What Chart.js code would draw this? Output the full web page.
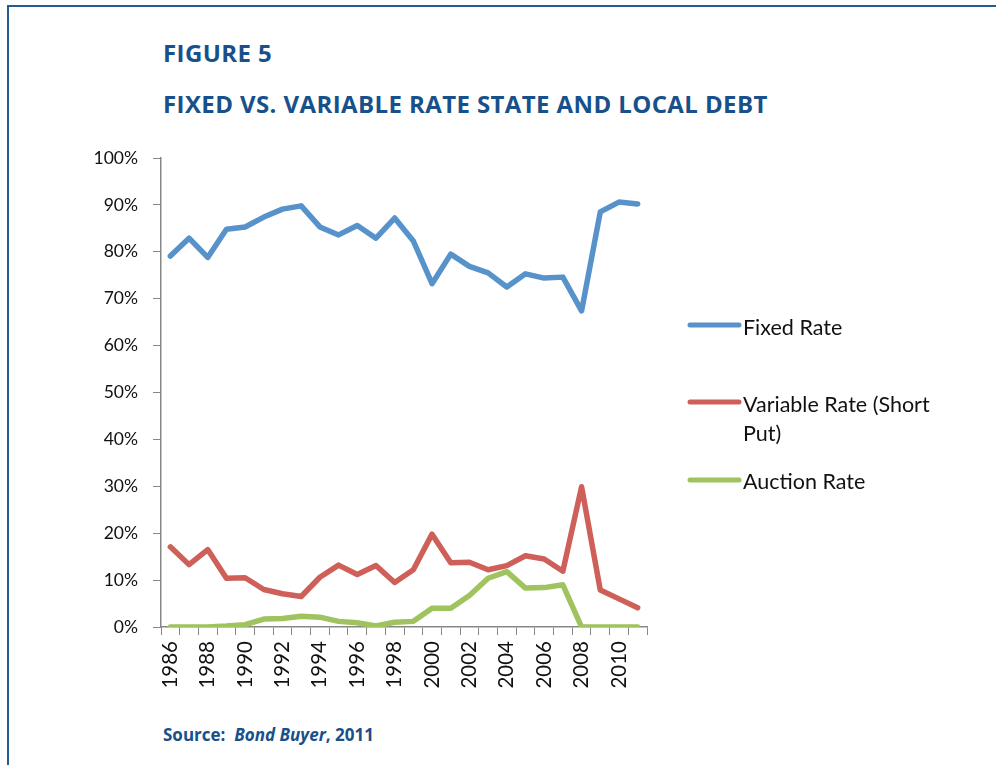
<!DOCTYPE html>
<html>
<head>
<meta charset="utf-8">
<script src="https://cdn.jsdelivr.net/npm/chart.js@4"></script>
<style>
  html, body { margin: 0; padding: 0; background: #fff; }
  #page { position: relative; width: 996px; height: 765px; overflow: hidden; }
  #frame { position: absolute; left: 7px; top: 5px; width: 1100px; height: 900px;
           border-top: 2px solid #245c92; border-left: 2px solid #245c92; }
  .title { position: absolute; left: 163px; margin: 0; color: #17508a; white-space: nowrap;
           font-family: 'Open Sans', sans-serif; font-weight: 700; font-size: 24px; line-height: 1;
           letter-spacing: 0.4px; }
  #fig { top: 41px; }
  #head { top: 92px; }
  #source { position: absolute; left: 163px; top: 726px; color: #17508a; line-height: 1;
            font-family: 'Open Sans', sans-serif; font-weight: 700; font-size: 17px; }
  #chart { position: absolute; left: 0; top: 0; }
</style>
</head>
<body>
<div id="page">
  <div id="frame"></div>
  <div class="title" id="fig">FIGURE 5</div>
  <div class="title" id="head">FIXED VS. VARIABLE RATE STATE AND LOCAL DEBT</div>
  <div id="source">Source:&nbsp; <i>Bond Buyer</i>, 2011</div>
  <canvas id="chart" width="996" height="765"></canvas>
</div>
<script>
const YEARS = ['1986', '1987', '1988', '1989', '1990', '1991', '1992', '1993', '1994', '1995', '1996', '1997', '1998',
               '1999', '2000', '2001', '2002', '2003', '2004', '2005', '2006', '2007', '2008', '2009', '2010', '2011'];

// percent of total issuance
const FIXED_RATE = [79.1, 82.9, 78.8, 84.8, 85.3, 87.4, 89.1, 89.8, 85.3, 83.6, 85.6, 82.9, 87.2,
                    82.3, 73.2, 79.5, 76.9, 75.5, 72.5, 75.3, 74.4, 74.6, 67.4, 88.5, 90.6, 90.2];
const VARIABLE_RATE = [17.1, 13.3, 16.5, 10.4, 10.5, 8.0, 7.1, 6.5, 10.6, 13.2, 11.2, 13.1, 9.5,
                       12.2, 19.8, 13.7, 13.8, 12.2, 13.1, 15.2, 14.5, 11.9, 29.9, 7.9, 6.0, 4.1];
const AUCTION_RATE = [0, 0, 0, 0.2, 0.5, 1.7, 1.8, 2.3, 2.1, 1.2, 0.9, 0.2, 1.0,
                      1.2, 4.0, 4.0, 6.7, 10.4, 11.8, 8.3, 8.4, 9.0, 0, 0, 0, 0];

const FONT_FAMILY = 'Lato, sans-serif';
const AXIS_COLOR = '#878787';
const TEXT_COLOR = '#111';

// legend drawn to the right of the plot, with wrapped labels like the original
const sideLegend = {
    id: 'sideLegend',
    afterDraw(chart, args, opts) {
        const ctx = chart.ctx;
        ctx.save();
        ctx.font = `${opts.fontSize}px ${FONT_FAMILY}`;
        ctx.fillStyle = TEXT_COLOR;
        ctx.textBaseline = 'alphabetic';
        chart.data.datasets.forEach((ds, i) => {
            const row = opts.rows[i];
            ctx.strokeStyle = ds.borderColor;
            ctx.lineWidth = 5;
            ctx.lineCap = 'round';
            ctx.beginPath();
            ctx.moveTo(opts.x, row.line);
            ctx.lineTo(opts.x + opts.lineLen, row.line);
            ctx.stroke();

            const words = ds.label.split(' ');
            let lines = [], cur = '';
            words.forEach(w => {
                const test = cur ? cur + ' ' + w : w;
                if (cur && ctx.measureText(test).width > opts.maxWidth) { lines.push(cur); cur = w; }
                else cur = test;
            });
            lines.push(cur);
            lines.forEach((l, k) => ctx.fillText(l, opts.x + opts.lineLen + 4, row.text + k * opts.lineHeight));
        });
        ctx.restore();
    }
};

const ctx = document.getElementById('chart').getContext('2d');
new Chart(ctx, {
    type: 'line',
    data: {
        labels: YEARS,
        datasets: [
            { label: 'Fixed Rate', data: FIXED_RATE, borderColor: '#5792ca' },
            { label: 'Variable Rate (Short Put)', data: VARIABLE_RATE, borderColor: '#cf5f59' },
            { label: 'Auction Rate', data: AUCTION_RATE, borderColor: '#9fc35e' }
        ].map(d => Object.assign(d, {
            borderWidth: 5.5, tension: 0, pointRadius: 0, fill: false,
            borderCapStyle: 'round', borderJoinStyle: 'round'
        }))
    },
    options: {
        responsive: false, animation: false,
        layout: { padding: { left: 41, right: 349, top: 158, bottom: 68 } },
        plugins: {
            legend: { display: false }, tooltip: { enabled: false },
            sideLegend: {
                x: 690, lineLen: 49, maxWidth: 200, lineHeight: 29, fontSize: 21.5,
                rows: [{ line: 325, text: 335 }, { line: 402, text: 412 }, { line: 480, text: 489 }]
            }
        },
        scales: {
            x: {
                offset: true,
                afterFit: s => { s.height = 70; },
                grid: { offset: true, drawOnChartArea: false, color: AXIS_COLOR, tickLength: 8 },
                border: { color: AXIS_COLOR, width: 1.5 },
                ticks: {
                    autoSkip: false, minRotation: 90, maxRotation: 90, padding: 6,
                    color: TEXT_COLOR, font: { family: FONT_FAMILY, size: 20.5 },
                    callback: (v, i) => i % 2 === 0 ? YEARS[i] : ''
                }
            },
            y: {
                min: 0, max: 100,
                afterFit: s => { s.width = 120; },
                grid: { drawOnChartArea: false, color: AXIS_COLOR, tickLength: 8 },
                border: { color: AXIS_COLOR, width: 1.5 },
                ticks: {
                    stepSize: 10, padding: 15, color: TEXT_COLOR,
                    font: { family: FONT_FAMILY, size: 17.5 }, callback: v => v + '%'
                }
            }
        }
    },
    plugins: [sideLegend]
});
</script>
</body>
</html>
